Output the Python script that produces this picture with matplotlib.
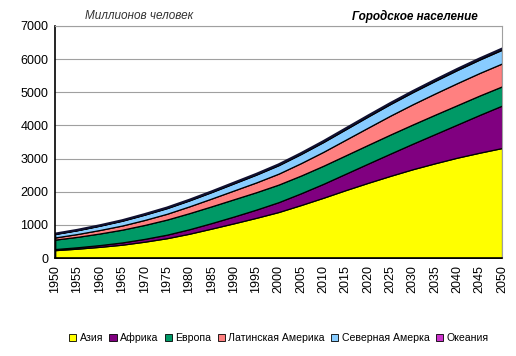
import numpy as np
import matplotlib.pyplot as plt
from matplotlib.patches import Patch

plt.rcParams['font.family'] = ['Liberation Sans', 'DejaVu Sans']

years = list(range(1950, 2051, 5))
asia = [240, 285, 340, 405, 495, 600, 735, 890, 1050, 1215, 1390, 1600, 1820,
        2050, 2270, 2480, 2680, 2860, 3030, 3180, 3320]
africa = [33, 42, 53, 68, 85, 107, 135, 167, 205, 248, 298, 355, 420, 495,
          580, 672, 770, 880, 1000, 1140, 1280]
europe = [285, 315, 350, 385, 420, 455, 485, 505, 520, 525, 530, 535, 545,
          555, 565, 575, 580, 585, 585, 585, 580]
latam = [65, 85, 105, 125, 150, 175, 205, 235, 265, 295, 330, 375, 420, 470,
         520, 570, 610, 640, 665, 680, 690]
namerica = [105, 115, 130, 145, 160, 170, 180, 195, 215, 235, 255, 275, 295,
            315, 335, 350, 365, 380, 395, 405, 415]
oceania = [8, 9, 10, 12, 14, 15, 16, 17, 19, 20, 21, 22, 24, 25, 26, 27, 28,
           29, 30, 30, 31]

labels = ["Азия", "Африка", "Европа", "Латинская Америка", "Северная Амерка", "Океания"]
colors = ["#FFFF00", "#800080", "#009966", "#FF8080", "#88CCFF", "#CC33CC"]

fig = plt.figure(figsize=(5.16, 3.56), dpi=100)
ax = fig.add_axes([0.107, 0.275, 0.866, 0.652])

series = [asia, africa, europe, latam, namerica, oceania]
ax.stackplot(years, *series, colors=colors, edgecolor="black", linewidth=0.9)
top = np.sum(series, axis=0)
ax.plot(years, top, color="#101030", lw=1.6)

ax.set_xlim(1950, 2050)
ax.set_ylim(0, 7000)
ax.set_yticks(range(0, 7001, 1000))
ax.set_xticks(years)
ax.set_xticklabels([str(y) for y in years], rotation=90, fontsize=9)
ax.tick_params(axis="y", labelsize=9, length=0, pad=5)
ax.tick_params(axis="x", length=0, pad=5)
ax.yaxis.grid(True, color="#a0a0a0", lw=0.8)
ax.set_axisbelow(True)
for s in ["top", "right"]:
    ax.spines[s].set_color("#a0a0a0")
for s in ["left", "bottom"]:
    ax.spines[s].set_color("black")
    ax.spines[s].set_linewidth(1.2)

fig.text(0.165, 0.955, "Миллионов человек", fontsize=8.5, style="italic",
         color="#333333", va="center")
fig.text(0.925, 0.955, "Городское население", fontsize=8.5, style="italic",
         weight="bold", ha="right", va="center")

handles = [Patch(facecolor=c, edgecolor="black", lw=0.6) for c in colors]
fig.legend(handles, labels, loc="center", bbox_to_anchor=(0.54, 0.05), ncol=6,
           frameon=False, fontsize=7.6, handlelength=0.7, handleheight=0.7,
           handletextpad=0.3, columnspacing=0.6)

fig.savefig("out.png", dpi=100)
